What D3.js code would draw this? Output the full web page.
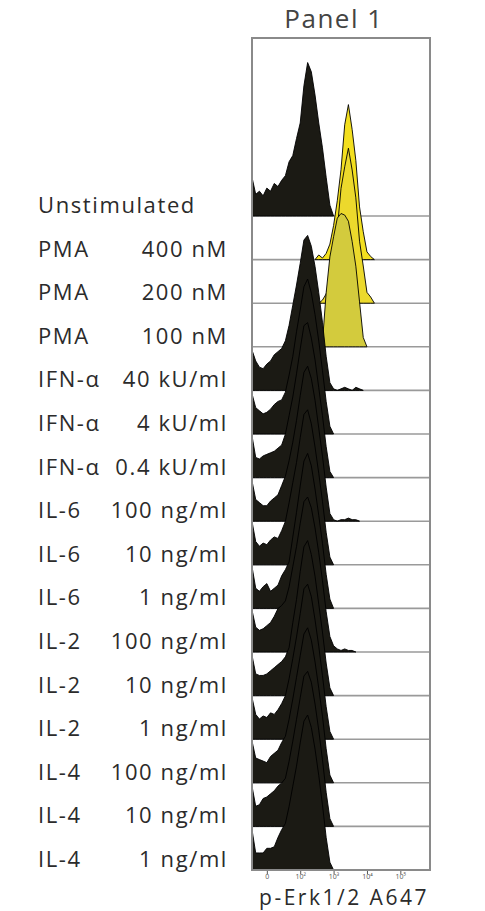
<!DOCTYPE html>
<html>
<head>
<meta charset="utf-8">
<script src="https://cdn.jsdelivr.net/npm/d3@7"></script>
<style>
  body { margin: 0; background: #fff; }
  text { font-family: "Open Sans", "Noto Sans", sans-serif; }
</style>
</head>
<body>
<div id="chart"></div>
<script>
// row labels (top to bottom)
const stimuli = ['Unstimulated', 'PMA', 'PMA', 'PMA', 'IFN-α', 'IFN-α', 'IFN-α',
  'IL-6', 'IL-6', 'IL-6', 'IL-2', 'IL-2', 'IL-2', 'IL-4', 'IL-4', 'IL-4']
const doses = ['', '400 nM', '200 nM', '100 nM', '40 kU/ml', '4 kU/ml', '0.4 kU/ml',
  '100 ng/ml', '10 ng/ml', '1 ng/ml', '100 ng/ml', '10 ng/ml', '1 ng/ml',
  '100 ng/ml', '10 ng/ml', '1 ng/ml']

// histogram counts per channel bin (% of mode), 48 bins across the axis
const unstim = [25, 14, 16, 13, 18, 16, 21, 19, 23, 26, 35, 39, 50, 60, 84, 99, 93, 78, 60, 44, 25, 7, 0]
const pma400 = [0, 0, 0, 0, 0, 0, 0, 0, 0, 0, 0, 0, 0, 0, 0, 0, 0, 0, 3, 1, 4, 10, 22, 38, 58, 87, 100, 84, 64, 34, 18, 5, 2, 0]
const pma200 = [0, 0, 0, 0, 0, 0, 0, 0, 0, 0, 0, 0, 0, 0, 0, 0, 0, 0, 0, 2, 6, 15, 31, 48, 74, 88, 100, 86, 68, 40, 24, 7, 4, 0]
const pma100 = [0, 0, 0, 0, 0, 0, 0, 0, 0, 0, 0, 0, 0, 0, 0, 0, 0, 0, 0, 3, 35, 58, 71, 83, 86, 85, 81, 68, 52, 29, 6, 0]
const ifn40 = [26, 19, 15, 14, 17, 19, 23, 25, 27, 32, 42, 55, 68, 82, 97, 100, 93, 80, 63, 44, 22, 5, 1, 0, 1, 2, 1, 0, 2, 1, 0]
const ifn4 = [26, 17, 15, 13, 14, 16, 19, 21, 22, 27, 38, 50, 66, 80, 95, 100, 91, 77, 60, 41, 21, 5, 0]
const ifn04 = [27, 13, 12, 14, 15, 16, 17, 19, 21, 28, 40, 52, 67, 83, 98, 100, 90, 76, 58, 40, 20, 4, 0]
const il6_100 = [26, 14, 12, 10, 10, 13, 15, 17, 23, 29, 39, 51, 65, 81, 96, 100, 92, 78, 60, 42, 22, 5, 1, 0, 1, 1, 2, 1, 1, 0]
const il6_10 = [28, 15, 12, 14, 13, 16, 18, 17, 22, 28, 40, 53, 66, 82, 97, 100, 91, 76, 59, 41, 21, 5, 0]
const il6_1 = [27, 13, 11, 14, 16, 11, 13, 15, 21, 25, 30, 46, 62, 79, 95, 100, 92, 77, 60, 42, 22, 6, 0]
const il2_100 = [27, 16, 14, 15, 17, 19, 23, 28, 30, 33, 42, 55, 68, 83, 97, 100, 93, 80, 64, 46, 26, 10, 4, 2, 1, 2, 1, 1, 0]
const il2_10 = [26, 14, 13, 13, 14, 16, 18, 20, 22, 25, 31, 47, 62, 80, 96, 100, 91, 77, 59, 41, 21, 5, 0]
const il2_1 = [27, 16, 13, 15, 14, 17, 16, 19, 23, 28, 39, 52, 66, 81, 97, 100, 92, 77, 60, 41, 21, 5, 0]
const il4_100 = [27, 16, 15, 14, 13, 17, 19, 21, 26, 30, 41, 54, 68, 82, 96, 100, 92, 78, 61, 43, 22, 5, 0]
const il4_10 = [26, 13, 14, 18, 19, 21, 23, 26, 28, 31, 42, 55, 69, 83, 97, 100, 93, 79, 62, 43, 22, 5, 0]
const il4_1 = [26, 11, 11, 11, 14, 14, 15, 21, 26, 30, 41, 54, 67, 82, 96, 100, 92, 78, 61, 42, 21, 5, 0]

const histograms = [unstim, pma400, pma200, pma100, ifn40, ifn4, ifn04,
  il6_100, il6_10, il6_1, il2_100, il2_10, il2_1, il4_100, il4_10, il4_1]
const fills = ['#1b1a14', '#f3df1f', '#ecd92c', '#d3cb3d', '#1b1a14', '#1b1a14', '#1b1a14',
  '#1b1a14', '#1b1a14', '#1b1a14', '#1b1a14', '#1b1a14', '#1b1a14', '#1b1a14', '#1b1a14', '#1b1a14']

// axis tick labels (bin positions)
const tickBins = [4, 13, 22, 31, 40]
const tickLabels = ['0', '10²', '10³', '10⁴', '10⁵']

const W = 485, H = 911
const panelLeft = 252, panelRight = 430, panelTop = 38

const svg = d3.select('#chart').append('svg')
  .attr('width', W)
  .attr('height', H)

const x = d3.scaleLinear().domain([0, 48]).range([panelLeft, panelRight])
const base = d3.scaleLinear().domain([0, stimuli.length - 1]).range([216, 870])
const h = d3.scaleLinear().domain([0, 100]).range([0, 155])

// title
svg.append('text')
  .attr('x', 334).attr('y', 28)
  .attr('text-anchor', 'middle')
  .attr('font-size', 26)
  .attr('letter-spacing', 1.5)
  .attr('fill', '#444')
  .text('Panel 1')

const rows = svg.selectAll('g.row')
  .data(histograms)
  .enter()
  .append('g')
  .attr('class', 'row')

rows.each(function (d, i) {
  const g = d3.select(this)
  const y0 = base(i)
  if (i < histograms.length - 1) {
    g.append('line')
      .attr('x1', panelLeft).attr('x2', panelRight)
      .attr('y1', y0).attr('y2', y0)
      .attr('stroke', '#9a9a9a')
      .attr('stroke-width', 1.6)
  }
  // trim the empty channels so no stroke runs along the baseline
  let first = d.findIndex(v => v > 0)
  let last = d.length - 1
  while (last > 0 && d[last] === 0) last--
  const s = Math.max(0, first - 1), e = Math.min(d.length - 1, last + 1)
  const pts = d.slice(s, e + 1).map((v, j) => [s + j, v])
  const area = d3.area()
    .x(p => x(p[0]))
    .y0(y0)
    .y1(p => y0 - h(p[1]))
  g.append('path')
    .attr('d', area(pts))
    .attr('fill', fills[i])
    .attr('stroke', '#000')
    .attr('stroke-width', 0.9)
    .attr('stroke-linejoin', 'round')
})

// panel border
svg.append('rect')
  .attr('x', panelLeft).attr('y', panelTop)
  .attr('width', panelRight - panelLeft)
  .attr('height', base(stimuli.length - 1) - panelTop)
  .attr('fill', 'none')
  .attr('stroke', '#8a8a8a')
  .attr('stroke-width', 2)

// row labels
const labels = svg.selectAll('g.label')
  .data(stimuli)
  .enter()
  .append('g')
  .attr('class', 'label')
  .attr('fill', '#2b2b2b')
  .attr('font-size', 22)
  .attr('letter-spacing', 1.6)

labels.append('text')
  .attr('x', 38)
  .attr('y', (d, i) => base(i) - 3)
  .text(d => d)

labels.append('text')
  .attr('x', 228)
  .attr('y', (d, i) => base(i) - 3)
  .attr('text-anchor', 'end')
  .text((d, i) => doses[i])

// bottom axis
const axis = svg.append('g')
  .attr('transform', `translate(0,${base(stimuli.length - 1) + 1})`)
  .call(d3.axisBottom(x).tickValues(tickBins).tickFormat((d, i) => tickLabels[i]).tickSize(3))
axis.select('.domain').remove()
axis.selectAll('line').attr('stroke', '#555')
axis.selectAll('text')
  .attr('font-size', 7)
  .attr('fill', '#555')
  .attr('y', 3)
  .attr('dy', '0.71em')
  .style('font-family', '"Open Sans", sans-serif')

svg.append('text')
  .attr('x', 344).attr('y', 905)
  .attr('text-anchor', 'middle')
  .attr('font-size', 21)
  .attr('letter-spacing', 2.5)
  .attr('fill', '#2b2b2b')
  .text('p-Erk1/2 A647')
</script>
</body>
</html>
